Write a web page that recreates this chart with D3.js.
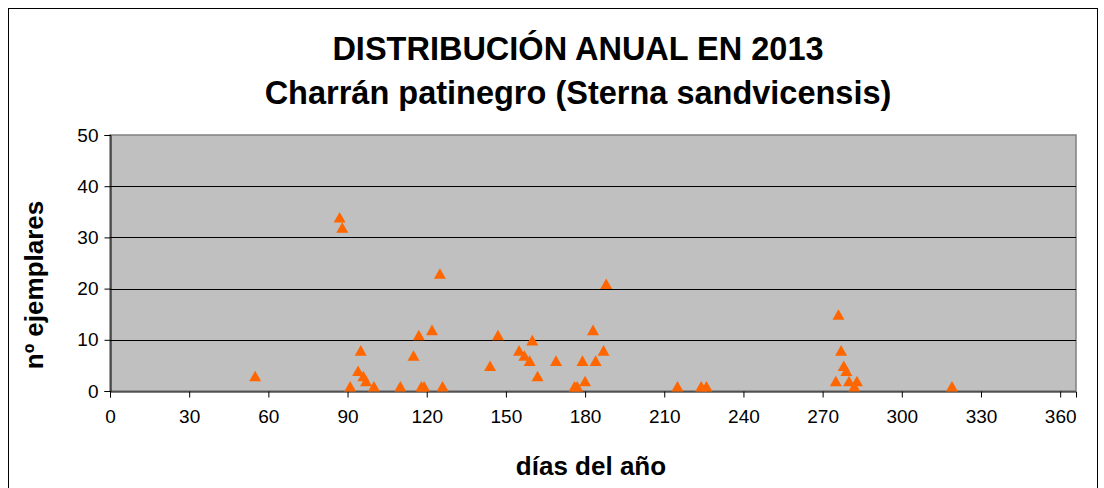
<!DOCTYPE html>
<html>
<head>
<meta charset="utf-8">
<script src="https://cdn.jsdelivr.net/npm/d3@7"></script>
<style>
  body { margin: 0; background: #fff; }
  text { font-family: "Liberation Sans", Arial, sans-serif; }
</style>
</head>
<body>
<script>
'use strict';

// observations: day of year and number of birds
const days   = [55, 87, 88, 91, 94, 95, 96, 97, 100, 110, 115, 117, 118, 119, 122, 125, 126,
                144, 147, 155, 157, 159, 160, 162, 169, 176, 177, 179, 180, 183, 184, 187, 188,
                215, 224, 226, 275, 276, 277, 278, 279, 280, 282, 283, 319];
const counts = [3, 34, 32, 1, 4, 8, 3, 2, 1, 1, 7, 11, 1, 1, 12, 23, 1,
                5, 11, 8, 7, 6, 10, 3, 6, 1, 1, 6, 2, 12, 6, 8, 21,
                1, 1, 1, 2, 15, 8, 5, 4, 2, 1, 2, 1];
const xTicks = [0, 30, 60, 90, 120, 150, 180, 210, 240, 270, 300, 330, 360];
const yTicks = [0, 10, 20, 30, 40, 50];
const titleLines = ["DISTRIBUCIÓN ANUAL EN 2013", "Charrán patinegro (Sterna sandvicensis)"];

const width = 1104, height = 488;
const plot = { left: 110, right: 1076, top: 135, bottom: 391 };

const svg = d3.select('body').append('svg')
  .attr('width', width)
  .attr('height', height);

// chart frame
svg.append('rect')
  .attr('x', 8.5).attr('y', 8.5)
  .attr('width', 1089).attr('height', 500)
  .attr('fill', '#fff')
  .attr('stroke', '#000')
  .attr('stroke-width', 1);

const x = d3.scaleLinear().domain([0, 366]).range([plot.left, plot.right]);
const y = d3.scaleLinear().domain([0, 50]).range([plot.bottom, plot.top]);

// plot area
svg.append('rect')
  .attr('x', plot.left).attr('y', plot.top)
  .attr('width', plot.right - plot.left).attr('height', plot.bottom - plot.top)
  .attr('fill', '#c0c0c0')
  .attr('stroke', '#808080')
  .attr('stroke-width', 1.5);

// gridlines
svg.append('g')
  .selectAll('line')
  .data(yTicks.filter(t => t > 0 && t < 50))
  .join('line')
  .attr('x1', plot.left).attr('x2', plot.right)
  .attr('y1', d => Math.round(y(d)) + 0.5).attr('y2', d => Math.round(y(d)) + 0.5)
  .attr('stroke', '#000')
  .attr('stroke-width', 1);

// y axis
const yAxis = svg.append('g')
  .attr('transform', `translate(${plot.left + 0.5},0)`)
  .call(d3.axisLeft(y).tickValues(yTicks).tickSize(6).tickPadding(6));
yAxis.select('.domain').attr('stroke', '#000');
yAxis.selectAll('text')
  .attr('font-size', '19px')
  .attr('fill', '#000')
  .style('font-family', '"Liberation Sans", Arial, sans-serif');

// x axis
const xAxis = svg.append('g')
  .attr('transform', `translate(0,${plot.bottom + 0.5})`)
  .call(d3.axisBottom(x).tickValues(xTicks).tickSize(6).tickPadding(12));
xAxis.select('.domain').attr('stroke', '#000');
xAxis.selectAll('line').attr('stroke', '#000');
xAxis.selectAll('text')
  .attr('font-size', '19px')
  .attr('fill', '#000')
  .style('font-family', '"Liberation Sans", Arial, sans-serif');

// points as orange triangles
const tri = 'M0,-5L6,5.6L-6,5.6Z';
svg.append('g')
  .selectAll('path')
  .data(days.map((d, i) => ({ day: d, n: counts[i] })))
  .join('path')
  .attr('d', tri)
  .attr('transform', d => `translate(${x(d.day)},${y(d.n)})`)
  .attr('fill', '#ff6600');

// titles
svg.append('g')
  .selectAll('text')
  .data(titleLines)
  .join('text')
  .attr('x', 578)
  .attr('y', (d, i) => 60 + i * 44)
  .attr('text-anchor', 'middle')
  .attr('font-size', '32.5px')
  .attr('font-weight', 'bold')
  .text(d => d);

svg.append('text')
  .attr('x', 591)
  .attr('y', 475)
  .attr('text-anchor', 'middle')
  .attr('font-size', '26px')
  .attr('font-weight', 'bold')
  .text('días del año');

svg.append('text')
  .attr('transform', 'translate(43,285)rotate(-90)')
  .attr('text-anchor', 'middle')
  .attr('font-size', '26px')
  .attr('font-weight', 'bold')
  .text('nº ejemplares');
</script>
</body>
</html>
